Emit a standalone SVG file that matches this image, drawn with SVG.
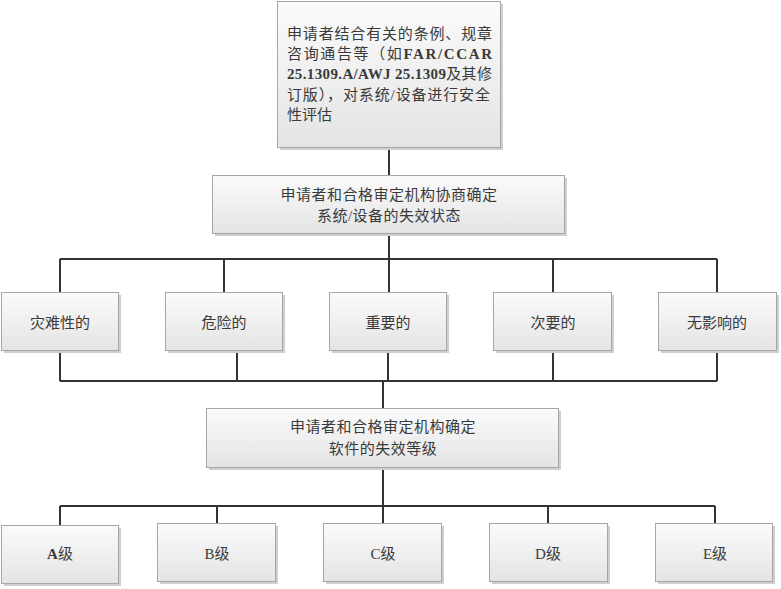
<svg xmlns="http://www.w3.org/2000/svg" width="781" height="589" viewBox="0 0 781 589">
<defs>
<linearGradient id="g" x1="0" y1="0" x2="0" y2="1">
<stop offset="0" stop-color="#fbfbfb"/>
<stop offset="1" stop-color="#e4e4e4"/>
</linearGradient>
<style>
.box{fill:url(#g);stroke:#a6a6a6;stroke-width:1}
.sh{fill:#cfcfcf}
.t{font-family:"Liberation Serif","Noto Sans CJK SC",serif;font-size:15px;fill:#3a3a3a}
.c{text-anchor:middle}
.b{font-weight:bold}
.conn{fill:none;stroke:#333;stroke-width:2}
</style>
</defs>
<rect width="781" height="589" fill="#fff"/>
<g id="connectors" class="conn">
<path d="M389,147V176M389,234V259M60,259H717M60,259V293M224,259V293M389,259V293M553,259V293M717,259V293"/>
<path d="M60,351V381M237,351V381M388,351V381M553,351V381M717,351V381M60,381H717M383,381V409"/>
<path d="M383,468V506M60,506H715M60,506V526M217,506V524M383,506V524M548,506V524M715,506V524"/>
</g>
<g id="n_top">
<rect class="sh" x="280" y="4" width="223" height="146"/>
<rect class="box" x="277.5" y="1.5" width="223" height="146"/>
<text class="t" x="287" y="39" textLength="205" lengthAdjust="spacing">申请者结合有关的条例、规章</text>
<text class="t" x="287" y="59" textLength="205" lengthAdjust="spacing">咨询通告等（如<tspan class="b">FAR/CCAR</tspan></text>
<text class="t" x="287" y="79" textLength="205" lengthAdjust="spacing"><tspan class="b">25.1309.A/AWJ 25.1309</tspan>及其修</text>
<text class="t" x="287" y="100" textLength="203" lengthAdjust="spacing">订版），对系统/设备进行安全</text>
<text class="t" x="287" y="120">性评估</text>
</g>
<g id="n_state">
<rect class="sh" x="215" y="178" width="352" height="58"/>
<rect class="box" x="212.5" y="175.5" width="352" height="58"/>
<text class="t c" x="389" y="200" letter-spacing="0.5">申请者和合格审定机构协商确定</text>
<text class="t c" x="389" y="221" letter-spacing="0.5">系统/设备的失效状态</text>
</g>
<g id="n_cat">
<rect class="sh" x="4" y="295" width="117" height="58"/>
<rect class="box" x="1.5" y="292.5" width="117" height="58"/>
<text class="t c" x="60" y="328">灾难性的</text>
</g>
<g id="n_haz">
<rect class="sh" x="168" y="295" width="117" height="58"/>
<rect class="box" x="165.5" y="292.5" width="117" height="58"/>
<text class="t c" x="224" y="328">危险的</text>
</g>
<g id="n_maj">
<rect class="sh" x="332" y="295" width="117" height="58"/>
<rect class="box" x="329.5" y="292.5" width="117" height="58"/>
<text class="t c" x="388" y="328">重要的</text>
</g>
<g id="n_min">
<rect class="sh" x="496" y="295" width="118" height="58"/>
<rect class="box" x="493.5" y="292.5" width="118" height="58"/>
<text class="t c" x="553" y="328">次要的</text>
</g>
<g id="n_no">
<rect class="sh" x="661" y="295" width="118" height="58"/>
<rect class="box" x="658.5" y="292.5" width="118" height="58"/>
<text class="t c" x="717" y="328">无影响的</text>
</g>
<g id="n_level">
<rect class="sh" x="209" y="411" width="352" height="59"/>
<rect class="box" x="206.5" y="408.5" width="352" height="59"/>
<text class="t c" x="383" y="432" letter-spacing="0.5">申请者和合格审定机构确定</text>
<text class="t c" x="383" y="454" letter-spacing="0.5">软件的失效等级</text>
</g>
<g id="n_A">
<rect class="sh" x="4" y="528" width="117" height="58"/>
<rect class="box" x="1.5" y="525.5" width="117" height="58"/>
<text class="t c" x="60" y="559"><tspan class="b">A</tspan>级</text>
</g>
<g id="n_B">
<rect class="sh" x="160" y="526" width="118" height="58"/>
<rect class="box" x="157.5" y="523.5" width="118" height="58"/>
<text class="t c" x="217" y="559">B级</text>
</g>
<g id="n_C">
<rect class="sh" x="326" y="526" width="118" height="58"/>
<rect class="box" x="323.5" y="523.5" width="118" height="58"/>
<text class="t c" x="383" y="559">C级</text>
</g>
<g id="n_D">
<rect class="sh" x="492" y="526" width="118" height="58"/>
<rect class="box" x="489.5" y="523.5" width="118" height="58"/>
<text class="t c" x="548" y="559">D级</text>
</g>
<g id="n_E">
<rect class="sh" x="658" y="526" width="117" height="58"/>
<rect class="box" x="655.5" y="523.5" width="117" height="58"/>
<text class="t c" x="715" y="559">E级</text>
</g>
</svg>
